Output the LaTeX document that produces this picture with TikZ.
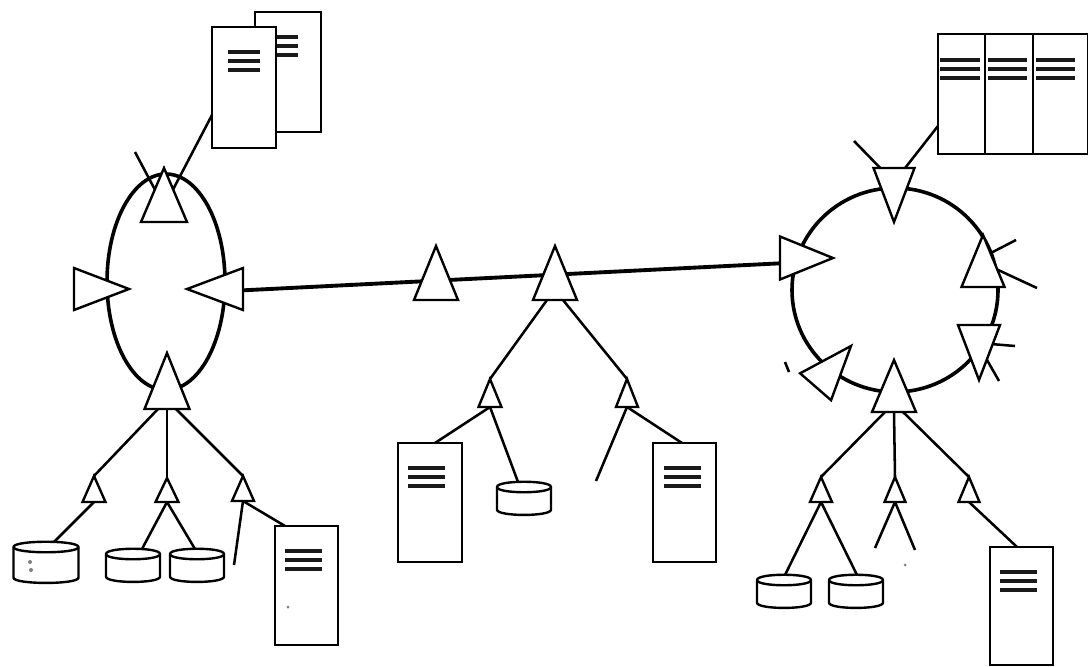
\documentclass[tikz,border=0pt]{standalone}
\usetikzlibrary{shapes.geometric,backgrounds}
\tikzset{
  tribase/.style={isosceles triangle,isosceles triangle stretches,draw=black,fill=white,line width=1.8pt,inner sep=0pt,outer sep=0pt,anchor=apex,line join=miter},
  srv/.style={rectangle,draw=black,fill=white,line width=1.9pt,inner sep=0pt,outer sep=0pt},
  bar/.style={line width=3pt,draw=black!90},
  dsk/.style={rectangle,draw=none,fill=white,inner sep=0pt,outer sep=0pt},
  dskline/.style={draw=black,line width=1.8pt,fill=white},
  link/.style={draw=black,line width=1.9pt},
  ring/.style={ellipse,draw=black,line width=2.7pt,inner sep=0pt,outer sep=0pt},
  trunk/.style={draw=black,line width=2.9pt},
  speck/.style={fill=black!50}
}
% name, apex x, apex y, direction angle, axial height, base width
\newcommand{\tri}[6]{\node[tribase,rotate=#4,minimum height=#5*0.75pt,minimum width=#6*0.75pt] (#1) at (#2,#3) {};}
% name, left, top, right, bottom, bar offset from left, bar length
\newcommand{\server}[7]{%
  \node[srv,minimum width={(#4-#2)*0.75pt},minimum height={(#5-#3)*0.75pt}] (#1) at ({(#2+#4)/2},{(#3+#5)/2}) {};
  \foreach \by in {26,35,44}{\draw[bar] ([shift={(#6,\by-1)}]#1.north west) -- ++(#7,0);}
}
% name, centre x, centre y, width, height
\newcommand{\disk}[5]{%
  \node[dsk,minimum width=#4*0.75pt,minimum height=#5*0.75pt] (#1) at (#2,#3) {};
  \draw[dskline] ([yshift=-4.5pt]#1.north west) .. controls +(0,-7) and +(0,-7) .. ([yshift=-4.5pt]#1.north east)
     -- ([yshift=4pt]#1.south east) .. controls +(0,7) and +(0,7) .. ([yshift=4pt]#1.south west) -- cycle;
  \draw[dskline,fill=none] ([yshift=-4.5pt]#1.north west) .. controls +(0,7) and +(0,7) .. ([yshift=-4.5pt]#1.north east);
}
\begin{document}
\begin{tikzpicture}[x=0.75pt,y=-0.75pt]
\useasboundingbox (0,0) rectangle (1088,667);
% left ring triangles
\tri{LT}{164}{168}{90}{54}{46}
\tri{LL}{129}{289}{0}{55}{42}
\tri{LR}{187}{289}{180}{56}{42}
\tri{LB}{167}{353}{90}{56}{45}
% centre triangles
\tri{CA}{436}{246}{90}{54}{44}
\tri{CB}{555}{246}{90}{54}{44}
% right ring triangles
\tri{RT}{894}{222}{-90}{54}{41}
\tri{RL}{833}{258}{0}{53}{43}
\tri{RU}{983}{235}{90}{52}{43}
\tri{RD}{979}{380}{-90}{55}{42}
\tri{RS}{851}{346}{49}{54}{41}
\tri{RB}{894}{360}{90}{52}{44}
% small triangles
\tri{a}{94}{476}{90}{26}{23}
\tri{b}{167}{478}{90}{24}{23}
\tri{c}{243}{476}{90}{25}{22}
\tri{d}{490}{379}{90}{28}{23}
\tri{e}{627}{379}{90}{28}{22}
\tri{f}{821}{477}{90}{25}{22}
\tri{g}{895}{477}{90}{25}{21}
\tri{h}{969}{477}{90}{25}{21}
% servers
\server{SB}{255}{12}{321}{132}{18}{25}
\server{SA}{212}{27}{276}{148}{16}{32}
\server{S1}{398}{443}{462}{562}{10}{37}
\server{S2}{653}{443}{716}{562}{11}{37}
\server{S3}{275}{526}{338}{645}{10}{37}
\server{S4}{990}{547}{1053}{665}{10}{37}
\node[srv,minimum width=48*0.75pt,minimum height=120*0.75pt] (R1) at (962,94) {};
\node[srv,minimum width=48*0.75pt,minimum height=120*0.75pt] (R2) at (1009,94) {};
\node[srv,minimum width=55*0.75pt,minimum height=120*0.75pt] (R3) at (1060.5,94) {};
\foreach \by in {60,69,78}{
  \draw[bar] (940,\by) -- (980,\by);
  \draw[bar] (988,\by) -- (1027,\by);
  \draw[bar] (1036,\by) -- (1075,\by);
}
% disks
\disk{D1}{46}{562}{65}{42}
\disk{D2}{133}{565}{54}{34}
\disk{D3}{197}{565}{54}{34}
\disk{D4}{524}{498}{54}{34}
\disk{D5}{784}{591}{54}{34}
\disk{D6}{856}{591}{54}{34}
% free ends
\coordinate (s1) at (135,152);
\coordinate (s2) at (234,565);
\coordinate (s3) at (596,481);
\coordinate (s4) at (875,548);
\coordinate (s5) at (915,550);
\coordinate (s6) at (854,141);
\coordinate (s7) at (1016,240);
\coordinate (s8) at (1037,288);
\coordinate (s9) at (1015,346);
\coordinate (s10) at (999,381);
\coordinate (m1) at (785,362);
\coordinate (m2) at (789,372);
\draw[line width=1.9pt] (m1) -- (m2);
\fill[speck] (288,607) circle (1.5);
\fill[speck] (905,565) circle (1.5);
\fill[speck] (30,562) circle (2);
\fill[speck] (31,570) circle (2);
\begin{scope}[on background layer]
\fill[white] (0,0) rectangle (1088,667);
\node[ring,minimum width=118*0.75pt,minimum height=216*0.75pt] (RingL) at (166,282) {};
\node[ring,minimum width=206*0.75pt,minimum height=204*0.75pt] (RingR) at (895,290) {};
\draw[trunk] ([yshift=-1pt]LR.lower side) -- ([yshift=-4pt]RL.lower side);
\draw[link] ([shift={(0,88)}]SA.north west) -- (LT.center);
\draw[link] (s1) -- (LT.center);
\draw[link] ([shift={(-9,0)}]LB.lower side) -- (a.apex);
\draw[link] (LB.lower side) -- (b.apex);
\draw[link] ([shift={(9,0)}]LB.lower side) -- (c.apex);
\draw[link] (a.lower side) -- ([shift={(7,-19)}]D1.center);
\draw[link] (b.lower side) -- ([shift={(9,-16)}]D2.center);
\draw[link] (b.lower side) -- ([shift={(-2,-16)}]D3.center);
\draw[link] (c.lower side) -- (s2);
\draw[link] (c.lower side) -- ([shift={(10,0)}]S3.north west);
\draw[link] ([shift={(-8,0)}]CB.lower side) -- (d.apex);
\draw[link] ([shift={(8,0)}]CB.lower side) -- (e.apex);
\draw[link] (d.lower side) -- ([shift={(37,0)}]S1.north west);
\draw[link] (d.lower side) -- (D4.center);
\draw[link] (e.lower side) -- (s3);
\draw[link] (e.lower side) -- ([shift={(29,0)}]S2.north west);
\draw[link] ([shift={(-9,0)}]RB.lower side) -- (f.apex);
\draw[link] (RB.lower side) -- (g.apex);
\draw[link] ([shift={(9,0)}]RB.lower side) -- (h.apex);
\draw[link] (f.lower side) -- ([shift={(1,-16)}]D5.center);
\draw[link] (f.lower side) -- ([shift={(1,-16)}]D6.center);
\draw[link] (g.lower side) -- (s4);
\draw[link] (g.lower side) -- (s5);
\draw[link] (h.lower side) -- ([shift={(27,0)}]S4.north west);
\draw[link] ([shift={(0,92)}]R1.north west) -- (RT.center);
\draw[link] (s6) -- (RT.center);
\draw[link] ([shift={(0,22)}]RU.apex) -- (s7);
\draw[link] ([shift={(0,28)}]RU.apex) -- (s8);
\draw[link] ([shift={(0,-37)}]RD.apex) -- (s9);
\draw[link] ([shift={(0,-34)}]RD.apex) -- (s10);
\end{scope}
\end{tikzpicture}
\end{document}
